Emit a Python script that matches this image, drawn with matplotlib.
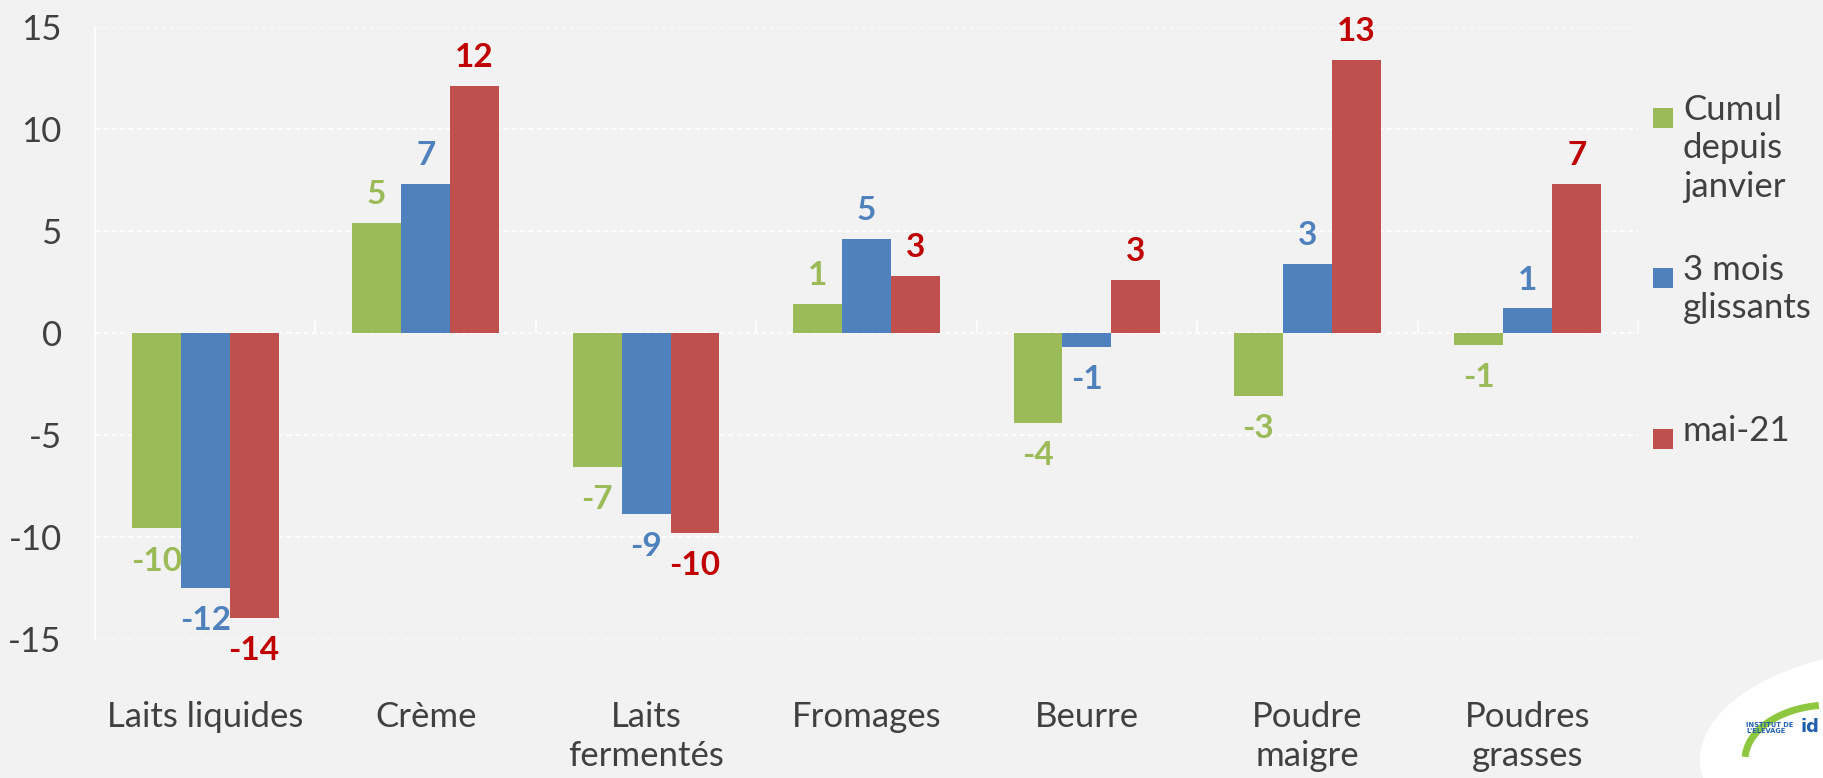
import matplotlib
matplotlib.use("Agg")
import matplotlib.pyplot as plt
import numpy as np
from matplotlib.patches import Rectangle, Ellipse, Arc

categories = ["Laits liquides", "Crème", "Laits\nfermentés", "Fromages", "Beurre",
              "Poudre\nmaigre", "Poudres\ngrasses"]
series_names = ["Cumul\ndepuis\njanvier", "3 mois\nglissants", "mai-21"]
cumul = [-9.6, 5.4, -6.6, 1.4, -4.4, -3.1, -0.6]
trois_mois = [-12.5, 7.3, -8.9, 4.6, -0.7, 3.4, 1.2]
mai21 = [-14.0, 12.1, -9.8, 2.8, 2.6, 13.4, 7.3]
yticks = [-15, -10, -5, 0, 5, 10, 15]

bar_colors = ["#9BBB59", "#4F81BD", "#C0504D"]
label_colors = ["#9BBB59", "#4F81BD", "#C00000"]
bg = "#F2F2F2"
txt = "#404040"
FONT = "Lato"

W, H = 1824, 778
fig = plt.figure(figsize=(W / 100, H / 100), dpi=100, facecolor=bg)
ax = fig.add_axes([95 / W, 1 - 638.5 / H, (1638 - 95) / W, (638.5 - 27.3) / H], facecolor=bg)

x = np.arange(len(categories))
w = 0.222
all_series = [cumul, trois_mois, mai21]
for k, vals in enumerate(all_series):
    pos = x + (k - 1) * w
    ax.bar(pos, vals, width=w, color=bar_colors[k], zorder=3, linewidth=0)
    for px, v in zip(pos, vals):
        lab = f"{int(np.round(v)):d}"
        if v >= 0:
            ax.annotate(lab, (px, v), xytext=(0, 10), textcoords="offset points",
                        ha="center", va="bottom", fontsize=24, fontweight="bold",
                        color=label_colors[k], family=FONT, zorder=4)
        else:
            ax.annotate(lab, (px, v), xytext=(0, -13), textcoords="offset points",
                        ha="center", va="top", fontsize=24, fontweight="bold",
                        color=label_colors[k], family=FONT, zorder=4)

ax.set_xlim(-0.5, len(categories) - 0.5)
ax.set_ylim(-15, 15)
ax.set_yticks(yticks)
ax.set_yticklabels([str(t) for t in yticks], fontsize=25, color=txt, family=FONT)
ax.tick_params(axis="y", length=0, pad=24)
ax.set_xticks(x)
ax.set_xticklabels(categories, fontsize=25, color=txt, family=FONT, linespacing=1.25)
ax.tick_params(axis="x", length=0, pad=45)
ax.yaxis.grid(True, color="white", linestyle=(0, (3, 2)), linewidth=1.2, zorder=0)
for s in ["top", "right", "bottom"]:
    ax.spines[s].set_visible(False)
ax.spines["left"].set_color("white")
ax.spines["left"].set_linewidth(1.2)

# zero axis with category separators
sec = ax.secondary_xaxis(0.5)
sec.set_xticks(np.arange(len(categories) + 1) - 0.5)
sec.set_xticklabels([])
sec.tick_params(axis="x", length=10, width=1.2, color="white", direction="out")
sec.spines["bottom"].set_color("white")
sec.spines["bottom"].set_linewidth(1.8)
for s in ["top", "left", "right"]:
    sec.spines[s].set_visible(False)

# legend (handle aligned with first line of each label)
leg_y = [118, 278, 439]
for k, name in enumerate(series_names):
    yc = leg_y[k]
    fig.patches.append(Rectangle((1653 / W, 1 - (yc + 10) / H), 20 / W, 20 / H,
                                 transform=fig.transFigure, facecolor=bar_colors[k],
                                 edgecolor="none"))
    fig.text(1683 / W, 1 - (yc - 24) / H, name, fontsize=25, color=txt, family=FONT,
             ha="left", va="top", linespacing=1.25)

# logo (Institut de l'Élevage)
fig.patches.append(Ellipse((1935 / W, 1 - 760 / H), 470 / W, 230 / H,
                           transform=fig.transFigure, facecolor="white", edgecolor="none"))
fig.patches.append(Arc((1830 / W, 1 - 760 / H), 170 / W, 110 / H, theta1=95, theta2=175,
                       transform=fig.transFigure, color="#8DC63F", linewidth=5))
fig.text(1746 / W, 1 - 728 / H, "INSTITUT DE\nL'ELEVAGE", fontsize=4.8, fontweight="bold",
         color="#1F5FAD", family="DejaVu Sans", ha="left", va="center", linespacing=1.0)
fig.text(1801 / W, 1 - 727 / H, "id", fontsize=13, fontweight="bold",
         color="#1F5FAD", family="DejaVu Sans", ha="left", va="center")

fig.savefig("out.png", dpi=100, facecolor=bg)
